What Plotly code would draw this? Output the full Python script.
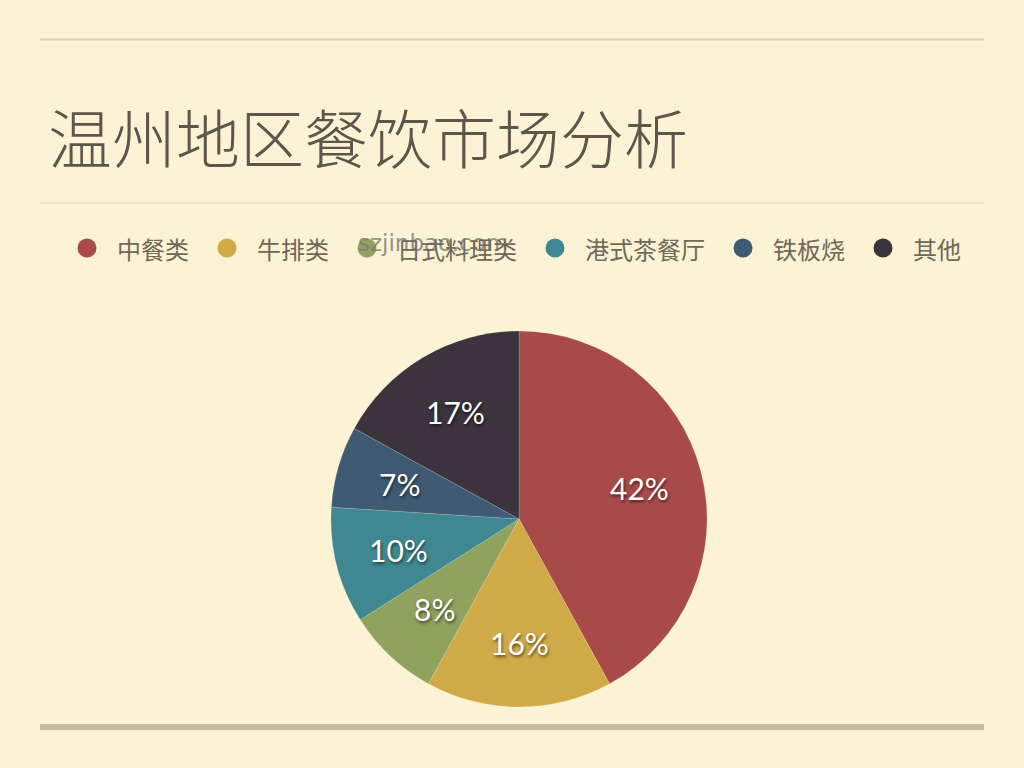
import math
import plotly.graph_objects as go

categories = ["中餐类", "牛排类", "日式料理类", "港式茶餐厅", "铁板烧", "其他"]
values = [42, 16, 8, 10, 7, 17]
colors = ["#A84A48", "#CFAA47", "#8FA25E", "#3F8891", "#3F5A73", "#3B343D"]
title_text = "温州地区餐饮市场分析"

W, H = 1024, 768
bg = "#FBF3D4"

# pie placement (pixels)
cx, cy, R = 519, 519, 188
label_r = 0.66 * R

fig = go.Figure()

fig.add_trace(go.Pie(
    labels=categories,
    values=values,
    sort=False,
    direction="clockwise",
    rotation=0,
    marker=dict(colors=colors, line=dict(color="rgba(255,255,255,0.25)", width=0.6)),
    textinfo="none",
    domain=dict(x=[(cx - R) / W, (cx + R) / W], y=[1 - (cy + R) / H, 1 - (cy - R) / H]),
    showlegend=False,
    hoverinfo="label+percent",
))

annotations = []

# slice labels at a fixed radius along each slice's mid-angle (derived from the data)
total = sum(values)
cum = 0
for v in values:
    mid = (cum + v / 2) / total * 2 * math.pi
    cum += v
    px = cx + label_r * math.sin(mid)
    py = cy - label_r * math.cos(mid)
    annotations.append(dict(
        text=f"{v}%", xref="paper", yref="paper", x=px / W, y=1 - py / H,
        xanchor="center", yanchor="middle", showarrow=False,
        font=dict(family="Lato, Open Sans, sans-serif", size=30, color="white",
                  shadow="1px 2px 3px rgba(0,0,0,0.55)"),
    ))

# title
annotations.append(dict(
    text=title_text, xref="paper", yref="paper", x=46 / W, y=1 - 135 / H,
    xanchor="left", yanchor="middle", showarrow=False,
    font=dict(family="Noto Sans CJK SC", size=64, color="#5E564A", weight=300)))

# watermark
annotations.append(dict(
    text="szjinbao.com", xref="paper", yref="paper", x=356 / W, y=1 - 243 / H,
    xanchor="left", yanchor="middle", showarrow=False,
    font=dict(family="DejaVu Sans, sans-serif", size=23, color="rgba(120,120,120,0.8)")))

shapes = [
    dict(type="line", xref="paper", yref="paper", x0=40 / W, x1=984 / W,
         y0=1 - 39.5 / H, y1=1 - 39.5 / H, line=dict(color="#DAD3B6", width=2)),
    dict(type="line", xref="paper", yref="paper", x0=40 / W, x1=984 / W,
         y0=1 - 203 / H, y1=1 - 203 / H, line=dict(color="#E5DDBF", width=1.5)),
    dict(type="line", xref="paper", yref="paper", x0=40 / W, x1=984 / W,
         y0=1 - 727 / H, y1=1 - 727 / H, line=dict(color="#C7BD9B", width=6)),
]

# legend: circle markers + labels laid out from label lengths
leg_y = 248
leg_fs = 24
dot_d = 19
lx = 87
for name, col in zip(categories, colors):
    shapes.append(dict(
        type="circle", xref="paper", yref="paper",
        x0=(lx - dot_d / 2) / W, x1=(lx + dot_d / 2) / W,
        y0=1 - (leg_y + dot_d / 2) / H, y1=1 - (leg_y - dot_d / 2) / H,
        fillcolor=col, line=dict(width=0)))
    annotations.append(dict(
        text=name, xref="paper", yref="paper", x=(lx + 28) / W, y=1 - leg_y / H,
        xanchor="left", yanchor="middle", showarrow=False,
        font=dict(family="Noto Sans CJK SC", size=leg_fs, color="#706858")))
    lx += 30 + len(name) * leg_fs + 38

fig.update_layout(
    width=W, height=H,
    margin=dict(l=0, r=0, t=0, b=0),
    paper_bgcolor=bg, plot_bgcolor=bg,
    xaxis=dict(visible=False), yaxis=dict(visible=False),
    shapes=shapes,
    annotations=annotations,
    showlegend=False,
)

fig.write_html(
    "out.html",
    config={"displayModeBar": False},
    post_script="document.body.style.margin='0';document.body.style.background='" + bg + "';",
)
